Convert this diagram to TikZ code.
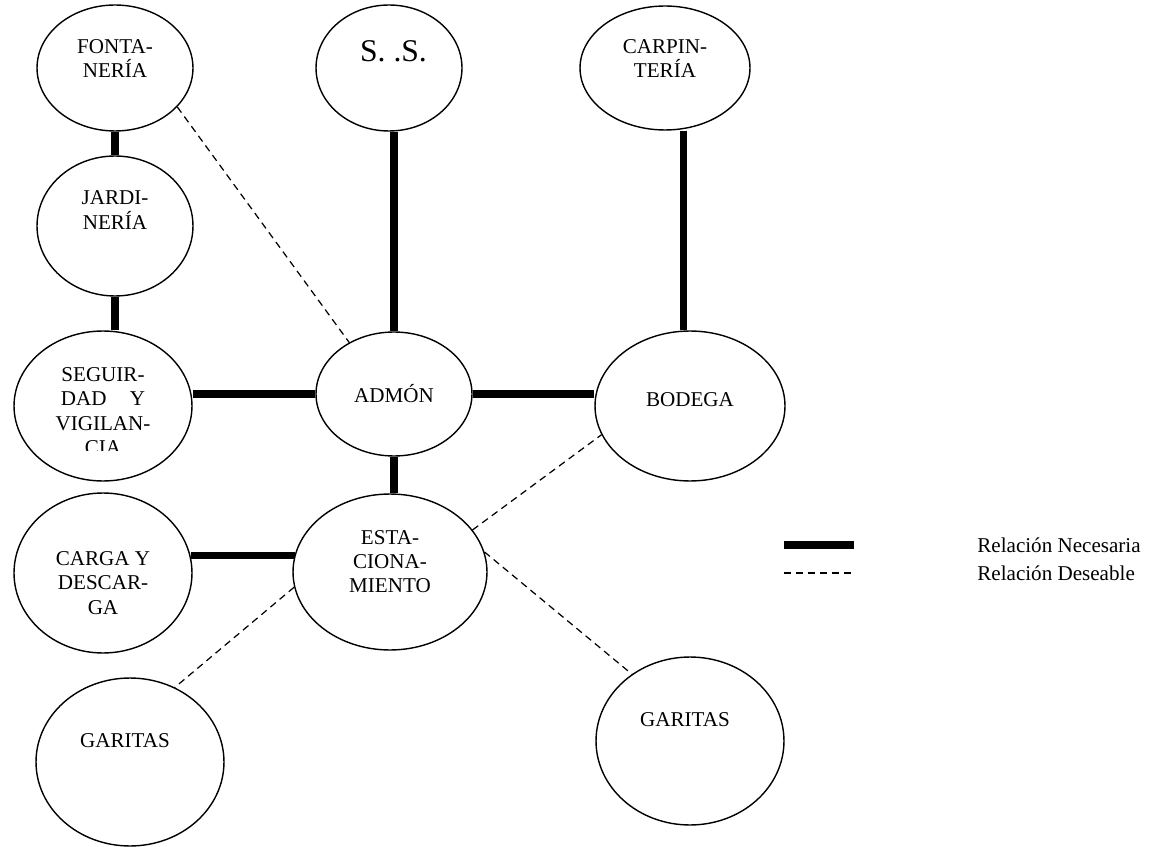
\documentclass[tikz,border=0pt]{standalone}
\usepackage{fontspec}
\setmainfont{Liberation Serif}
\usetikzlibrary{shapes.geometric}

\tikzset{
  area/.style={draw, ellipse, line width=0.8pt, inner sep=0pt},
  rotulo/.style={align=center, font=\fontsize{12}{13.8}\selectfont},
  necesaria/.style={line width=4pt},
  deseable/.style={line width=0.7pt, dash pattern=on 4pt off 2.8pt}
}

\begin{document}
\begin{tikzpicture}[x=0.02cm, y=-0.02cm]
	\useasboundingbox (0,0) rectangle (1155,847);
	
	% Areas
	\node[area, minimum width=3.12cm, minimum height=2.52cm,
	  label={[rotulo, yshift=0.19cm]center:FONTA-\\NERÍA}] (fontaneria) at (115,68) {};
	\node[area, minimum width=2.92cm, minimum height=2.52cm,
	  label={[rotulo, font=\fontsize{18}{21}\selectfont, xshift=0.09cm, yshift=0.33cm]center:S. .S.}] (servicios) at (389,68) {};
	\node[area, minimum width=3.40cm, minimum height=2.48cm,
	  label={[rotulo, yshift=0.19cm]center:CARPIN-\\TERÍA}] (carpinteria) at (665,68) {};
	\node[area, minimum width=3.12cm, minimum height=2.80cm,
	  label={[rotulo, yshift=0.32cm]center:JARDI-\\NERÍA}] (jardineria) at (115,226) {};
	\node[area, minimum width=3.56cm, minimum height=3.00cm] (seguridad) at (103,406) {};
	\node[area, minimum width=3.12cm, minimum height=2.48cm,
	  label={[rotulo]center:ADMÓN}] (admon) at (394,394) {};
	\node[area, minimum width=3.80cm, minimum height=3.00cm,
	  label={[rotulo, yshift=0.13cm]center:BODEGA}] (bodega) at (690,406) {};
	\node[area, minimum width=3.56cm, minimum height=3.20cm,
	  label={[rotulo, yshift=-0.2cm]center:CARGA Y\\DESCAR-\\GA}] (carga) at (103,573) {};
	\node[area, minimum width=3.88cm, minimum height=3.12cm,
	  label={[rotulo, yshift=0.21cm]center:ESTA-\\CIONA-\\MIENTO}] (estacionamiento) at (390,572) {};
	\node[area, minimum width=3.76cm, minimum height=3.36cm,
	  label={[rotulo, xshift=-0.1cm, yshift=0.42cm]center:GARITAS}] (garitaizq) at (130,762) {};
	\node[area, minimum width=3.76cm, minimum height=3.36cm,
	  label={[rotulo, xshift=-0.1cm, yshift=0.42cm]center:GARITAS}] (garitader) at (690,741) {};
	
	% Text cut by the box
	\begin{scope}
		\clip (0,300) rectangle (300,450);
		\node[rotulo] (vigilancia) at (103,411) {SEGUIR-\\DAD\hspace{1.1em}Y\\VIGILAN-\\CIA};
	\end{scope}
	
	% Necessary relations
	\draw[necesaria] (fontaneria.south) -- (jardineria.north);
	\draw[necesaria] (jardineria.south) -- (jardineria.south |- seguridad.north);
	\draw[necesaria] (admon.north |- servicios.south) -- (admon.north);
	\draw[necesaria] (bodega.95 |- carpinteria.south) -- (bodega.95);
	\draw[necesaria] (seguridad.east |- admon.west) -- (admon.west);
	\draw[necesaria] (admon.east) -- (admon.east -| bodega.west);
	\draw[necesaria] (admon.south) -- (admon.south |- estacionamiento.north);
	\draw[necesaria] (carga.11) -- (carga.11 -| estacionamiento.169);
	
	% Desirable relations
	\draw[deseable] (fontaneria.-32) -- (admon.131);
	\draw[deseable] (estacionamiento.27) -- (bodega.198);
	\draw[deseable] (estacionamiento.12) -- (garitader.131);
	\draw[deseable] (estacionamiento.189) -- (garitaizq.59);
	
	% Legend
	\coordinate (necA) at (784,545);
	\coordinate (necB) at (854,545);
	\coordinate (desA) at (784,573);
	\coordinate (desB) at (854,573);
	\draw[necesaria] (necA) -- (necB);
	\draw[deseable] (desA) -- (desB);
	\node[rotulo, anchor=west, inner sep=0pt] (lnec) at (977,545) {Relación Necesaria};
	\node[rotulo, anchor=west, inner sep=0pt] (ldes) at (977,573) {Relación Deseable};
	
\end{tikzpicture}
\end{document}
